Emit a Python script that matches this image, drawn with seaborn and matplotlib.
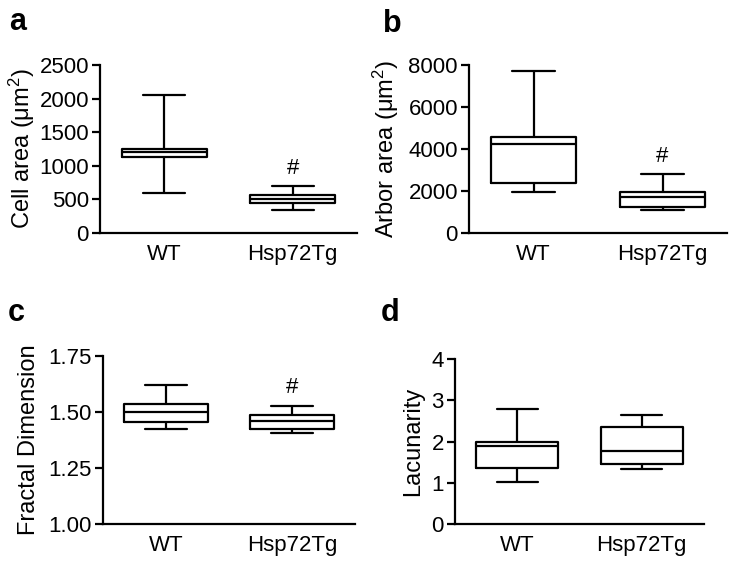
import matplotlib
matplotlib.use("Agg")
import matplotlib.pyplot as plt
from matplotlib.ticker import FormatStrFormatter
import pandas as pd
import seaborn as sns

# groups on the x axis
groups = ["WT", "Hsp72Tg"]

# five-number summaries: min, Q1, median, Q3, max
cell_wt = [600, 1126, 1200, 1250, 2050]
cell_tg = [342, 451, 506, 565, 699]
arbor_wt = [1933, 2361, 4245, 4594, 7730]
arbor_tg = [1078, 1235, 1696, 1933, 2789]
fractal_wt = [1.426, 1.457, 1.498, 1.536, 1.619]
fractal_tg = [1.408, 1.424, 1.459, 1.486, 1.527]
lacun_wt = [1.03, 1.347, 1.887, 1.992, 2.79]
lacun_tg = [1.339, 1.444, 1.774, 2.347, 2.653]

sns.set_style("ticks")
plt.rcParams["font.family"] = ["Liberation Sans", "DejaVu Sans"]
plt.rcParams["mathtext.fontset"] = "custom"
plt.rcParams["mathtext.rm"] = "Liberation Sans"
plt.rcParams["mathtext.it"] = "Liberation Sans"
for k in ["text.color", "axes.labelcolor", "xtick.color", "ytick.color"]:
    plt.rcParams[k] = "black"

W, H = 738, 566
fig = plt.figure(figsize=(W / 100, H / 100), dpi=100)


def make_df(wt, tg):
    # five values per group give exactly these quartiles with linear percentiles
    return pd.DataFrame({
        "group": [groups[0]] * len(wt) + [groups[1]] * len(tg),
        "value": wt + tg,
    })


def panel(rect, wt, tg, ylim, yticks, ylabel, labelx, letter, letter_xy, star, fmt=None):
    ax = fig.add_axes(rect)
    df = make_df(wt, tg)
    sns.boxplot(data=df, x="group", y="value", order=groups, whis=(0, 100),
                width=0.66, fill=False, color="black", linecolor="black",
                linewidth=1.6, ax=ax)
    ax.set_xlim(-0.5, 1.5)
    ax.set_ylim(*ylim)
    ax.set_yticks(yticks)
    if fmt:
        ax.yaxis.set_major_formatter(FormatStrFormatter(fmt))
    ax.set_xlabel("")
    ax.set_ylabel(ylabel, fontsize=17)
    ax.yaxis.set_label_coords(labelx, 0.5)
    sns.despine(ax=ax)
    for s in ["left", "bottom"]:
        ax.spines[s].set_linewidth(1.6)
        ax.spines[s].set_color("black")
    ax.tick_params(axis="y", length=6, width=1.6, labelsize=16, pad=2)
    ax.tick_params(axis="x", length=0, labelsize=16, pad=8)
    if star:
        ax.annotate("#", xy=(1, max(tg)), xytext=(0, 9), textcoords="offset points",
                    ha="center", va="baseline", fontsize=16)
    fig.text(letter_xy[0] / W, 1 - letter_xy[1] / H, letter, fontsize=22,
             fontweight="bold", ha="left", va="baseline")
    return ax


panel([0.1355, 0.5883, 0.3482, 0.2968], cell_wt, cell_tg, (0, 2500),
      [0, 500, 1000, 1500, 2000, 2500], "Cell area (μm$^2$)", -0.245,
      "a", (9, 30), True)
panel([0.6355, 0.5883, 0.3496, 0.2968], arbor_wt, arbor_tg, (0, 8000),
      [0, 2000, 4000, 6000, 8000], "Arbor area (μm$^2$)", -0.264,
      "b", (383, 32), True)
panel([0.1396, 0.0742, 0.3415, 0.2968], fractal_wt, fractal_tg, (1.0, 1.75),
      [1.0, 1.25, 1.5, 1.75], "Fractal Dimension", -0.25,
      "c", (8, 321), True, fmt="%.2f")
panel([0.6165, 0.0742, 0.3374, 0.2915], lacun_wt, lacun_tg, (0, 4),
      [0, 1, 2, 3, 4], "Lacunarity", -0.124,
      "d", (381, 321), False)

fig.savefig("out.png", dpi=100)
